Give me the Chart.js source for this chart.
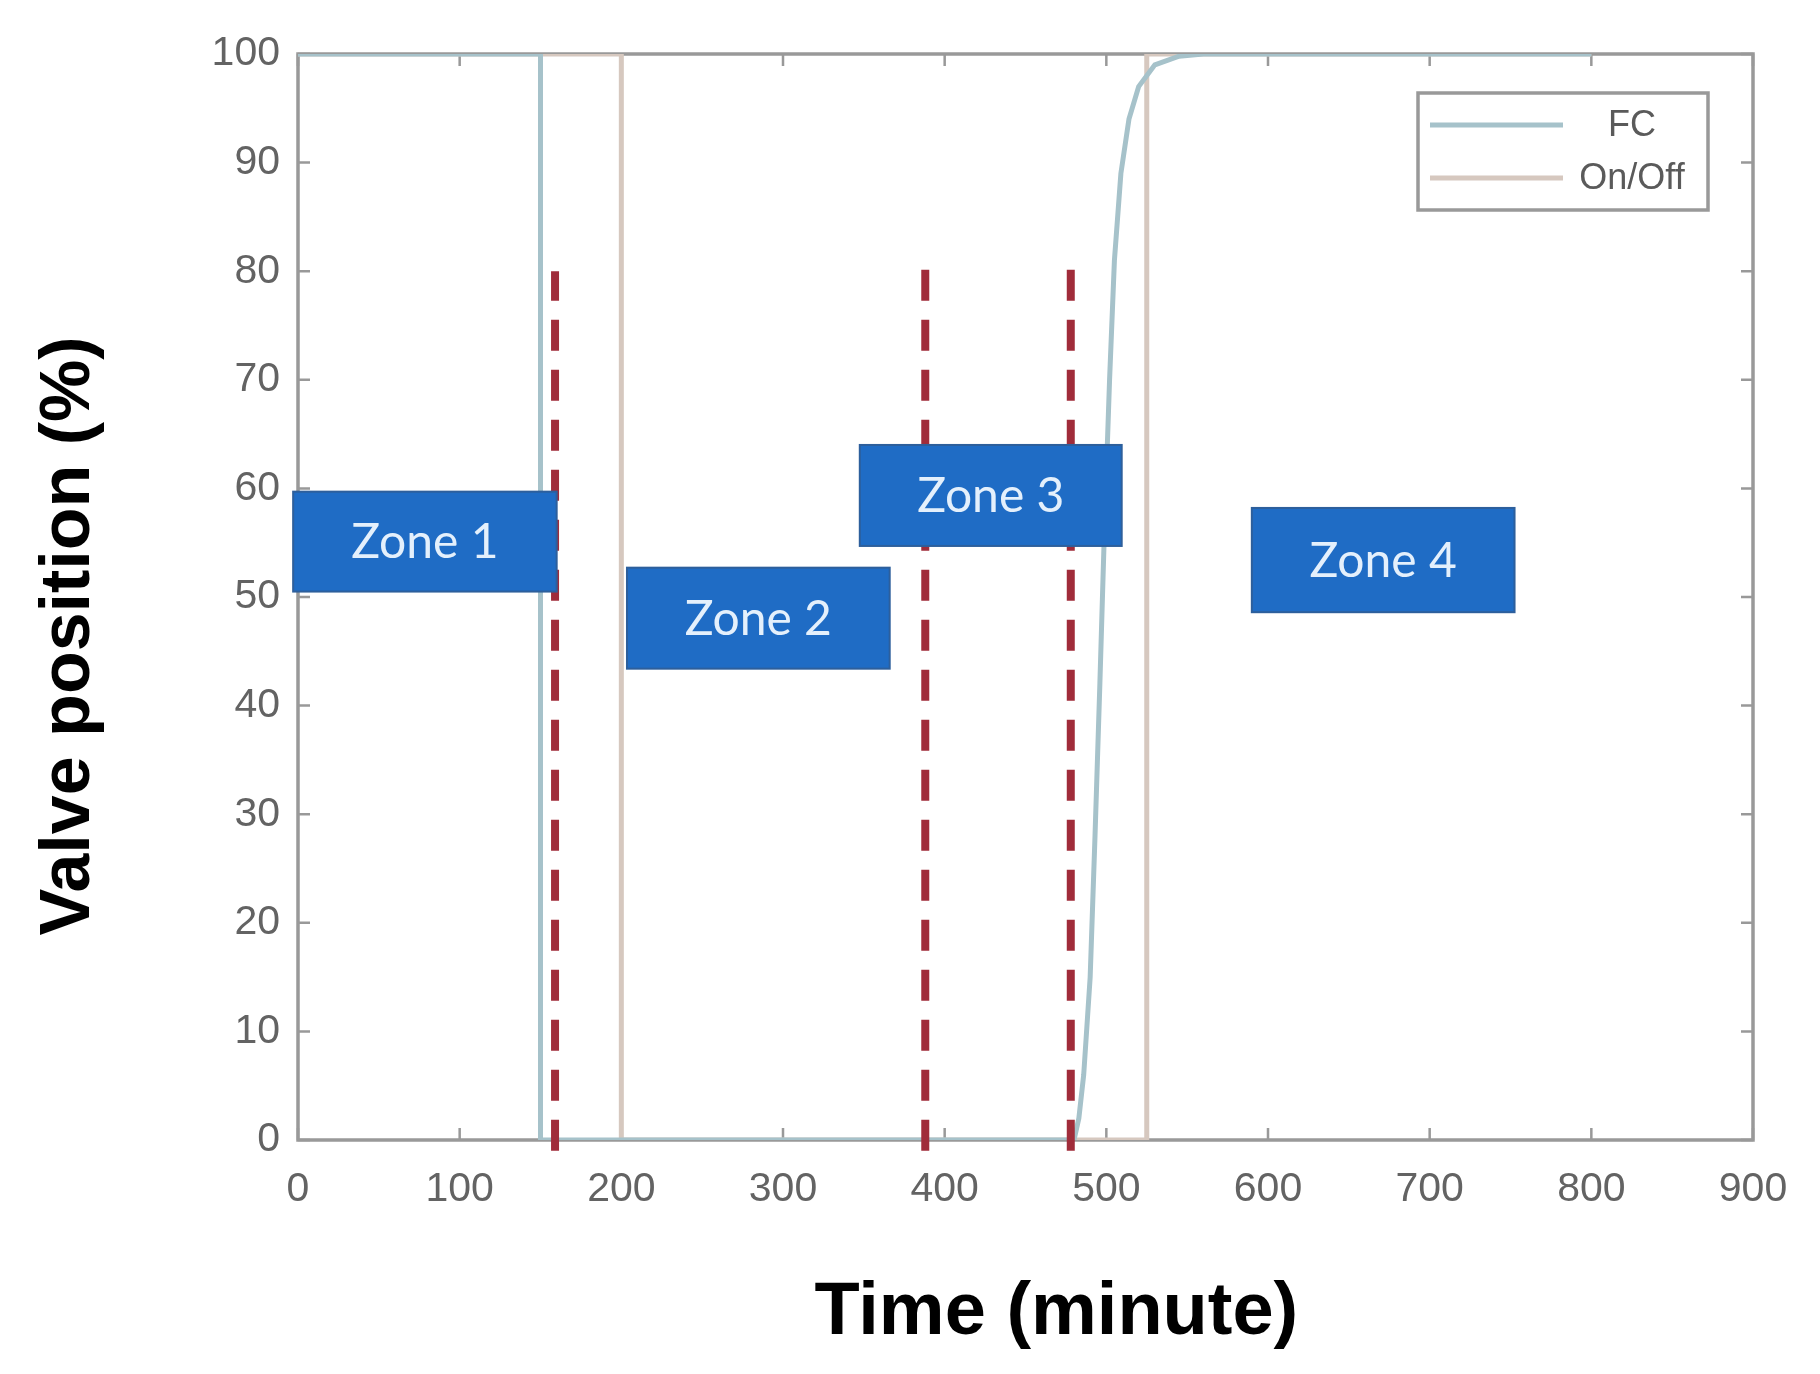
<!DOCTYPE html>
<html>
<head>
<meta charset="utf-8">
<script src="https://cdn.jsdelivr.net/npm/chart.js@4.4.1/dist/chart.umd.min.js"></script>
<style>
  html, body { margin: 0; padding: 0; background: #ffffff; }
  #wrap { width: 1820px; height: 1374px; }
</style>
</head>
<body>
<div id="wrap"><canvas id="c" width="1820" height="1374"></canvas></div>
<script>
// ---- data ----
const fcTime  = [0, 150, 150, 480, 483, 486, 490, 493, 496, 499, 502, 505, 509, 514, 520, 530, 545, 560, 800];
const fcValve = [100, 100, 0, 0, 2, 6, 15, 28, 42, 57, 70, 81, 89, 94, 97, 99, 99.8, 100, 100];

const onOffTime  = [0, 200, 200, 525, 525, 800];
const onOffValve = [100, 100, 0, 0, 100, 100];

const boundaryTime   = [159, 388, 478];
const boundaryTop    = [80, 81, 81];
const boundaryBottom = [-1, -1, -1];

const zoneLabels  = ['Zone 1', 'Zone 2', 'Zone 3', 'Zone 4'];
const zoneXStart  = [-3, 203.5, 347.5, 590];
const zoneXEnd    = [160, 366, 509.5, 752.5];
const zoneYTop    = [59.7, 52.7, 64, 58.2];
const zoneYBottom = [50.5, 43.4, 54.7, 48.6];

const xTicks = [0, 100, 200, 300, 400, 500, 600, 700, 800, 900];
const yTicks = [0, 10, 20, 30, 40, 50, 60, 70, 80, 90, 100];

// ---- styles ----
const FC_COLOR = '#a6c2ca';
const ONOFF_COLOR = '#d6c8bf';
const RED = '#a02c3a';
const FRAME = '#999999';
const TICK_TEXT = '#636363';
const SANS = '"Liberation Sans", Arial, sans-serif';

const pts = (xs, ys) => xs.map((v, i) => ({x: v, y: ys[i]}));

const datasets = boundaryTime.map((t, i) => ({
  label: 'Zone boundary ' + (i + 1),
  data: [{x: t, y: boundaryBottom[i]}, {x: t, y: boundaryTop[i]}],
  borderColor: RED,
  borderWidth: 8,
  borderDash: [31, 19],
  borderCapStyle: 'butt',
  pointRadius: 0,
  clip: false,
  tension: 0
}));
datasets.push({
  label: 'FC',
  data: pts(fcTime, fcValve),
  borderColor: FC_COLOR,
  borderWidth: 5,
  pointRadius: 0,
  tension: 0
});
datasets.push({
  label: 'On/Off',
  data: pts(onOffTime, onOffValve),
  borderColor: ONOFF_COLOR,
  borderWidth: 5,
  pointRadius: 0,
  tension: 0
});

const overlay = {
  id: 'overlay',
  beforeDatasetsDraw(chart) {
    const {ctx, chartArea: a, scales: {x, y}} = chart;
    ctx.save();
    ctx.strokeStyle = FRAME;
    ctx.lineWidth = 3.5;
    ctx.strokeRect(a.left, a.top, a.right - a.left, a.bottom - a.top);
    ctx.lineWidth = 2.5;
    ctx.beginPath();
    x.ticks.forEach(t => {
      const px = x.getPixelForValue(t.value);
      ctx.moveTo(px, a.bottom); ctx.lineTo(px, a.bottom - 12);
      ctx.moveTo(px, a.top); ctx.lineTo(px, a.top + 12);
    });
    y.ticks.forEach(t => {
      const py = y.getPixelForValue(t.value);
      ctx.moveTo(a.left, py); ctx.lineTo(a.left + 12, py);
      ctx.moveTo(a.right, py); ctx.lineTo(a.right - 12, py);
    });
    ctx.stroke();
    ctx.restore();
  },
  afterDatasetsDraw(chart) {
    const {ctx, scales: {x, y}} = chart;
    ctx.save();
    zoneLabels.forEach((lab, i) => {
      const l = x.getPixelForValue(zoneXStart[i]);
      const r = x.getPixelForValue(zoneXEnd[i]);
      const t = y.getPixelForValue(zoneYTop[i]);
      const b = y.getPixelForValue(zoneYBottom[i]);
      ctx.fillStyle = '#1f6cc5';
      ctx.fillRect(l, t, r - l, b - t);
      ctx.strokeStyle = '#2d5f9c';
      ctx.lineWidth = 2;
      ctx.strokeRect(l, t, r - l, b - t);
      ctx.fillStyle = '#e4f0fc';
      ctx.font = '48px Lato, "Open Sans", sans-serif';
      ctx.textAlign = 'center';
      ctx.textBaseline = 'middle';
      ctx.fillText(lab, (l + r) / 2, (t + b) / 2 + 1);
    });
    ctx.restore();
  },
  afterDraw(chart) {
    const {ctx, chartArea: a} = chart;
    const items = chart.data.datasets.filter(d => d.label === 'FC' || d.label === 'On/Off');
    const bx = a.right - 335, by = a.top + 39, bw = 290, bh = 117;
    ctx.save();
    ctx.fillStyle = '#ffffff';
    ctx.fillRect(bx, by, bw, bh);
    ctx.strokeStyle = FRAME;
    ctx.lineWidth = 3.5;
    ctx.strokeRect(bx, by, bw, bh);
    items.forEach((d, i) => {
      const ly = by + 32 + i * 53;
      ctx.strokeStyle = d.borderColor;
      ctx.lineWidth = 5;
      ctx.beginPath();
      ctx.moveTo(bx + 12, ly); ctx.lineTo(bx + 145, ly);
      ctx.stroke();
      ctx.fillStyle = '#5a5a5a';
      ctx.font = '36px ' + SANS;
      ctx.textAlign = 'center';
      ctx.textBaseline = 'middle';
      ctx.fillText(d.label, bx + 214, ly + 1);
    });
    ctx.restore();
  }
};

new Chart(document.getElementById('c'), {
  type: 'line',
  data: { datasets },
  plugins: [overlay],
  options: {
    responsive: false,
    animation: false,
    events: [],
    layout: { padding: { top: 54, right: 67, left: 0, bottom: 0 } },
    plugins: { legend: { display: false }, tooltip: { enabled: false } },
    scales: {
      x: {
        type: 'linear',
        min: 0, max: 900,
        afterBuildTicks: s => { s.ticks = xTicks.map(v => ({value: v})); },
        afterFit: s => { s.height = 234; },
        grid: { display: false, drawTicks: false },
        border: { display: false },
        ticks: { font: { size: 41, family: SANS }, color: TICK_TEXT, padding: 25, maxRotation: 0 },
        title: {
          display: true,
          text: '\u00A0\u00A0\u00A0Time (minute)',
          font: { size: 74, weight: 'bold', family: SANS },
          color: '#000000',
          padding: { top: 0, bottom: 16 }
        }
      },
      y: {
        type: 'linear',
        min: 0, max: 100,
        afterBuildTicks: s => { s.ticks = yTicks.map(v => ({value: v})); },
        afterFit: s => { s.width = 298; },
        grid: { display: false, drawTicks: false },
        border: { display: false },
        ticks: { font: { size: 41, family: SANS }, color: TICK_TEXT, padding: 18 },
        title: {
          display: true,
          text: 'Valve position (%)\u00A0\u00A0\u00A0\u00A0',
          font: { size: 70, weight: 'bold', family: SANS },
          color: '#000000',
          padding: { top: 28, bottom: 0 }
        }
      }
    }
  }
});
</script>
</body>
</html>
